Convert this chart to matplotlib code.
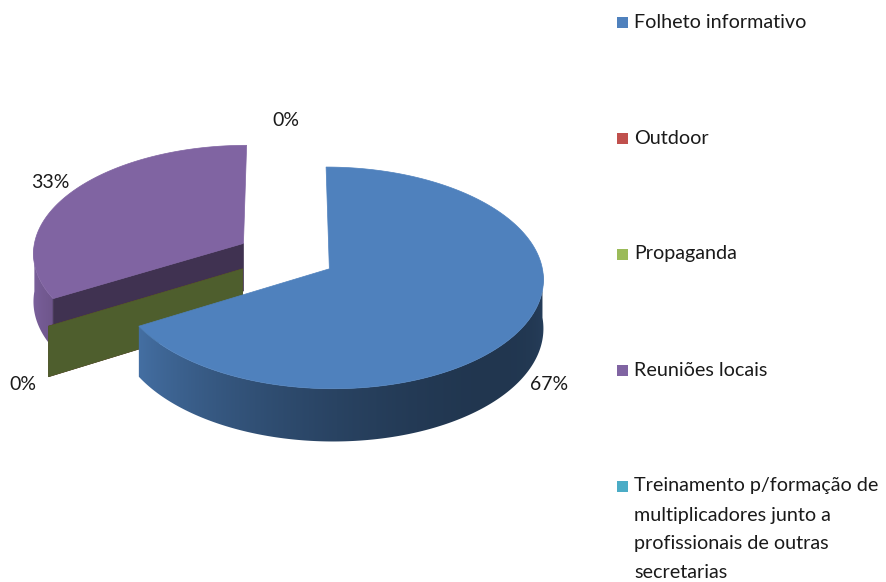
import numpy as np
import matplotlib.pyplot as plt
from matplotlib.patches import Polygon, Rectangle
from matplotlib.colors import to_rgb

# dados do gráfico
categorias = ['Folheto informativo', 'Outdoor', 'Propaganda', 'Reuniões locais',
              'Treinamento p/formação de\nmultiplicadores junto a\nprofissionais de outras\nsecretarias']
valores = [2, 0, 0, 1, 0]
cores = ['#4F81BD', '#C0504D', '#9BBB59', '#8064A2', '#4BACC6']

# geometria da pizza 3D (pixels)
cx0, cy0 = 286, 256
rx, ry = 211, 108
k = 0.081          # perspectiva
depth = 48         # espessura
explode = 0.235
label_r = 1.36

plt.rcParams['font.family'] = ['Lato', 'DejaVu Sans']

fig = plt.figure(figsize=(8.86, 5.82), dpi=100)
ax = fig.add_axes([0, 0, 1, 1])
ax.set_xlim(0, 886)
ax.set_ylim(582, 0)
ax.axis('off')


def proj(X, Z, h=0.0):
    f = 1.0 / (1.0 + k * Z)
    return cx0 + rx * X * f, cy0 - ry * Z * f + h * f


def shade(c, s):
    r, g, b = to_rgb(c)
    return (r * s, g * s, b * s)


def brilho(theta):
    # luz vinda de trás à esquerda
    return np.minimum(0.77 + 0.35 * np.cos(np.radians(theta - 135)), 1.0)


total = sum(valores)
fatias = []
a = 90.0
for i, v in enumerate(valores):
    sweep = 360.0 * v / total
    t1, t2 = a - sweep, a
    b = np.radians((t1 + t2) / 2)
    ox, oz = explode * np.cos(b), explode * np.sin(b)
    fatias.append(dict(i=i, t1=t1, t2=t2, b=b, ox=ox, oz=oz))
    a -= sweep

# ordem de desenho: de trás para frente
ordem = sorted(fatias, key=lambda s: (-round(s['oz'], 6), valores[s['i']] > 0))

eps = 1e-6
for s in ordem:
    c = cores[s['i']]
    ox, oz = s['ox'], s['oz']
    t1, t2 = s['t1'], s['t2']

    # parede externa (parte da frente) com degradê
    if t2 > t1:
        ts = np.linspace(t1, t2, 400)
        frente = np.sin(np.radians(ts)) <= eps
        tf = ts[frente]
        if len(tf) > 1:
            r = np.radians(tf)
            top = [proj(ox + np.cos(t), oz + np.sin(t)) for t in r]
            bot = [proj(ox + np.cos(t), oz + np.sin(t), depth) for t in r]
            wall = Polygon(top + bot[::-1], closed=True, fc='none', ec='none')
            ax.add_patch(wall)
            xs = np.array([p[0] for p in top])
            order = np.argsort(xs)
            xg = np.linspace(xs.min(), xs.max(), 300)
            br = np.interp(xg, xs[order], brilho(tf)[order])
            img = np.array([[shade(c, v) for v in br]])
            ys = [p[1] for p in top + bot]
            im = ax.imshow(img, extent=(xs.min() - 1, xs.max() + 1, max(ys) + 1, min(ys) - 1),
                           aspect='auto', interpolation='bilinear', zorder=1)
            im.set_clip_path(wall)

    # faces radiais visíveis
    faces = [(t2, np.cos(np.radians(t2)) < -eps)]
    if t2 > t1:
        faces.append((t1, np.cos(np.radians(t1)) > eps))
    for t, vis in faces:
        if not vis:
            continue
        r = np.radians(t)
        X, Z = ox + np.cos(r), oz + np.sin(r)
        pts = [proj(ox, oz), proj(X, Z), proj(X, Z, depth), proj(ox, oz, depth)]
        col = shade(c, 0.5)
        ax.add_patch(Polygon(pts, closed=True, fc=col, ec=col, lw=0.5, zorder=1))

    # face superior
    if t2 > t1:
        ts = np.radians(np.linspace(t1, t2, 300))
        pts = [proj(ox, oz)] + [proj(ox + np.cos(t), oz + np.sin(t)) for t in ts]
        ax.add_patch(Polygon(pts, closed=True, fc=c, ec=c, lw=0.5, zorder=1))

# rótulos de porcentagem
vistos = set()
for s in fatias:
    b = s['b']
    X, Z = label_r * np.cos(b), label_r * np.sin(b)
    h = depth if np.sin(b) < -1e-9 else -4
    x, y = proj(X, Z, h)
    key = (round(x), round(y))
    if key in vistos:
        continue
    vistos.add(key)
    ax.text(x, y, f'{valores[s["i"]] / total:.0%}', ha='center', va='center',
            fontsize=14, color='#1a1a1a', zorder=3)

# legenda
ly0, lstep, lline = 22, 116, 29
for i, (nome, c) in enumerate(zip(categorias, cores)):
    y = ly0 + i * lstep
    ax.add_patch(Rectangle((617, y - 5), 11, 11, fc=c, ec='none', zorder=3))
    for j, linha in enumerate(nome.split('\n')):
        ax.text(634, y + j * lline, linha, ha='left', va='center', fontsize=14.2,
                color='#1a1a1a', zorder=3)

fig.savefig('out.png', dpi=100)
